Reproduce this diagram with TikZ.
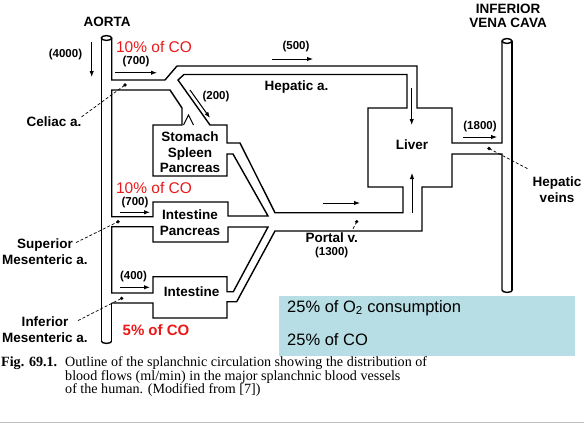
\documentclass[tikz,border=0pt]{standalone}
\usepackage{fontspec}
\setmainfont{Liberation Serif}
\newfontfamily\labelfont{Liberation Sans}
\usetikzlibrary{arrows.meta}
\definecolor{boxblue}{RGB}{183,222,228}
\definecolor{cored}{RGB}{235,25,25}
\def\capend(#1,#2){\draw[line width=1.4pt] (#1,#2) arc[start angle=180, end angle=360, x radius=5.2pt, y radius=2.4pt];}

\begin{document}
\begin{tikzpicture}[x=1pt,y=-1pt,
	vessel/.style={line width=1.4pt, line join=miter},
	lbl/.style={font=\labelfont\bfseries\fontsize{13.5}{15.5}\selectfont, align=center, inner sep=0pt},
	flow/.style={font=\labelfont\bfseries\fontsize{11.5}{13}\selectfont, inner sep=0pt},
	share/.style={font=\labelfont\fontsize{15.5}{17}\selectfont, text=cored, inner sep=0pt},
	flowarrow/.style={-{Latex[length=6pt,width=4.5pt]}, line width=1pt},
	leader/.style={densely dashed, line width=0.7pt}]
	\useasboundingbox (0,0) rectangle (584,424);
	%%%%% VESSELS %%%%%
	% aorta
	\draw[vessel] (106.5,38) ellipse[x radius=5.2pt, y radius=2.4pt];
	\draw[vessel] (101.3,38) -- (101.3,341);
	\capend(101.3,341)
	\draw[vessel] (111.7,303) -- (111.7,341);
	% celiac and hepatic a., outer wall into liver and vena cava
	\draw[vessel] (111.7,38) -- (111.7,80) -- (165,80) -- (177,66) -- (417,66) -- (417,108)
		-- (452,108) -- (452,143) -- (502,143) -- (502,41);
	% hepatic a. lower wall, liver, portal v. upper wall, stomach branch
	\draw[vessel] (184,74.5) -- (407,74.5) -- (407,108) -- (368,108) -- (368,187) -- (403,187)
		-- (403,212.7) -- (275,212.7) -- (240,143) -- (227,143) -- (227,125) -- (210,125)
		-- (178,80) -- cycle;
	% between celiac and superior mesenteric a.
	\draw[vessel] (111.7,90) -- (170,90) -- (182,108) -- (182,125) -- (153,125) -- (153,176)
		-- (227,176) -- (227,154) -- (233,154) -- (268,216) -- (228,216) -- (228,202)
		-- (153,202) -- (153,216.7) -- (111.7,216.7) -- cycle;
	% between superior and inferior mesenteric a.
	\draw[vessel] (111.7,226.7) -- (153,226.7) -- (153,242) -- (228,242) -- (228,227)
		-- (268,227) -- (233.3,291.7) -- (227,291.7) -- (227,276.7) -- (153,276.7)
		-- (153,293) -- (111.7,293) -- cycle;
	% inferior mesenteric a., portal v. lower wall, hepatic veins
	\draw[vessel] (111.7,303) -- (153,303) -- (153,318) -- (227,318) -- (227,301.7)
		-- (236.7,301.7) -- (275,231) -- (422,231) -- (422,187) -- (452,187) -- (452,154)
		-- (502,154) -- (502,290);
	% inferior vena cava
	\draw[vessel] (507,41) ellipse[x radius=5pt, y radius=2.4pt];
	\draw[vessel] (512,41) -- (512,290);
	\capend(502,290)
	% marker
	\draw[line width=1pt] (183.5,125) -- (188.5,115) -- (193.5,125);
	%%%%% FLOWS %%%%%
	\draw[flowarrow] (91.7,42) -- (91.7,77);
	\draw[flowarrow] (115,72.7) -- (157,72.7);
	\draw[flowarrow] (190,90) -- (210,118);
	\draw[flowarrow] (272,59) -- (313,59);
	\draw[flowarrow] (411.7,88) -- (411.7,125);
	\draw[flowarrow] (412,213) -- (412,173);
	\draw[flowarrow] (323,203) -- (360,203);
	\draw[flowarrow] (463,137) -- (497,137);
	\draw[flowarrow] (120,212.3) -- (150,212.3);
	\draw[flowarrow] (120,287.3) -- (150,287.3);
	%%%%% LABELS %%%%%
	\node[lbl] (aorta) at (107,22) {AORTA};
	\node[lbl, font=\labelfont\bfseries\fontsize{13.5}{14}\selectfont] (ivc) at (508,16) {INFERIOR\\VENA CAVA};
	\node[flow] (f4000) at (65.5,55) {(4000)};
	\node[share] (coA) at (154,47) {10\% of CO};
	\node[flow] (f700a) at (136,62) {(700)};
	\node[lbl] (celiac) at (54,122) {Celiac a.};
	\node[flow] (f200) at (216,97) {(200)};
	\node[flow] (f500) at (296,47) {(500)};
	\node[lbl] (hepa) at (296.5,87) {Hepatic a.};
	\node[lbl] (liver) at (412,145) {Liver};
	\node[flow] (f1800) at (480,127) {(1800)};
	\node[lbl] (hepv) at (557,189.5) {Hepatic\\veins};
	\node[lbl] (stomach) at (190,152.5) {Stomach\\Spleen\\Pancreas};
	\node[share] (coB) at (154,188) {10\% of CO};
	\node[flow] (f700b) at (135,203) {(700)};
	\node[lbl] (intpan) at (190,222.5) {Intestine\\Pancreas};
	\node[lbl] (sma) at (45,251.5) {Superior\\Mesenteric a.};
	\node[lbl] (portal) at (331.7,238) {Portal v.};
	\node[flow] (f1300) at (331.7,253) {(1300)};
	\node[flow] (f400) at (133.5,277) {(400)};
	\node[lbl] (intestine) at (191.7,291.7) {Intestine};
	\node[lbl] (ima) at (45,329.5) {Inferior\\Mesenteric a.};
	\node[share, font=\labelfont\bfseries\fontsize{15}{17}\selectfont] (coC) at (156,330) {5\% of CO};
	%%%%% LEADERS %%%%%
	\coordinate (dotcel) at (125,85);
	\coordinate (dotsma) at (118,221.7);
	\coordinate (dotima) at (121.7,298.3);
	\coordinate (dotpv) at (356.7,221.7);
	\coordinate (dothv) at (489,148.5);
	\draw[leader] (celiac.north east) -- (dotcel);
	\draw[leader] (sma.north east) ++(-12,4) -- (dotsma);
	\draw[leader] (ima.north east) ++(-10,4) -- (dotima);
	\draw[leader] (portal.north east) ++(-5,-4) -- (dotpv);
	\draw[leader] (hepv.north west) ++(-5,-8) -- (dothv);
	\foreach \d in {dotcel,dotsma,dotima,dotpv,dothv}
		\fill (\d) circle (1.8pt);
	%%%%% SHARE BOX %%%%%
	\fill[boxblue] (279,296) rectangle (575,356);
	\node[anchor=west, inner sep=0pt, font=\labelfont\fontsize{16.5}{18}\selectfont] (otwo) at (287,308) {25\% of O\textsubscript{2} consumption};
	\node[anchor=west, inner sep=0pt, font=\labelfont\fontsize{16.5}{18}\selectfont] (cototal) at (287,340) {25\% of CO};
	%%%%% CAPTION %%%%%
	\node[anchor=base west, inner sep=0pt, font=\fontsize{14.1}{15}\selectfont] (fig) at (1,366) {\textbf{Fig. 69.1.}};
	\node[anchor=base west, inner sep=0pt, font=\fontsize{14.1}{15}\selectfont] (capa) at (65,366) {Outline of the splanchnic circulation showing the distribution of};
	\node[anchor=base west, inner sep=0pt, font=\fontsize{14.1}{15}\selectfont] (capb) at (65,380) {blood flows (ml/min) in the major splanchnic blood vessels};
	\node[anchor=base west, inner sep=0pt, font=\fontsize{14.1}{15}\selectfont] (capc) at (65,393.5) {of the human. (Modified from [7])};
	\draw[gray!50, line width=1pt] (0,422.5) -- (584,422.5);
\end{tikzpicture}
\end{document}
